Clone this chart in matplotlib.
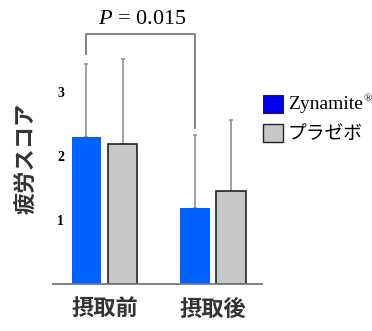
"""
Fatigue score before / after intake: Zynamite vs placebo bar chart.
"""

import matplotlib.pyplot as plt
import numpy as np
from matplotlib.patches import Rectangle

plt.rcParams["mathtext.fontset"] = "custom"
plt.rcParams["mathtext.rm"] = "Liberation Serif"
plt.rcParams["mathtext.it"] = "Liberation Serif:italic"

# --- data -------------------------------------------------------------------
groups = ["摂取前", "摂取後"]
zynamite_mean = [2.29, 1.19]
zynamite_sd = [1.14, 1.14]
placebo_mean = [2.19, 1.46]
placebo_sd = [1.32, 1.11]
y_ticks = [1, 2, 3]
p_label = "$P$ = 0.015"

JP_FONT = "Noto Sans CJK JP"
BLUE = "#0062ff"
GREY = "#c8c8c8"
ERR = "#9a9a9a"

W, H = 372, 331
fig = plt.figure(figsize=(W / 100, H / 100), dpi=100)
ax = fig.add_axes([53 / W, 47 / H, 209 / W, 256 / H])

x = np.arange(len(groups))
bw = 0.27
off = 0.167

ax.bar(x - off, zynamite_mean, bw, color=BLUE, edgecolor="none", zorder=2)
ax.bar(x + off, placebo_mean, bw, color=GREY, edgecolor="#222222",
       linewidth=1.2, zorder=2)

# upward-only error bars
for xs, m, s in [(x - off, zynamite_mean, zynamite_sd),
                 (x + off, placebo_mean, placebo_sd)]:
    ax.errorbar(xs, m, yerr=[np.zeros(len(s)), s], fmt="none", ecolor=ERR,
                elinewidth=1.3, capsize=1.5, capthick=1.3, zorder=1)

ax.set_xlim(-0.475, 1.452)
ax.set_ylim(0, 4)

# significance bracket between the two Zynamite bars
bx0, bx1 = x[0] - off, x[1] - off
ax.plot([bx0, bx0, bx1, bx1], [3.59, 3.91, 3.91, 2.44], color="#7a7a7a",
        lw=1.3, clip_on=False)
ax.text(0.35, 4.13, p_label, ha="center", va="center", fontsize=16,
        family="Liberation Serif", clip_on=False)

for side in ["top", "right", "left"]:
    ax.spines[side].set_visible(False)
ax.spines["bottom"].set_color("#777777")
ax.spines["bottom"].set_linewidth(1.3)

ax.set_xticks(x)
ax.set_xticklabels(groups, fontsize=16, family=JP_FONT, fontweight="bold",
                   color="#333333")
ax.tick_params(axis="x", length=0, pad=10)

ax.set_yticks(y_ticks)
ax.set_yticklabels([str(t) for t in y_ticks], fontsize=10,
                   family="Liberation Serif", fontweight="bold")
ax.tick_params(axis="y", length=0, pad=-8)

fig.text(27 / W, 1 - 158 / H, "疲労スコア", rotation=90, ha="center",
         va="center", fontsize=16, family=JP_FONT, fontweight="bold",
         color="#333333")

# hand-placed legend
fig.patches.append(Rectangle((263 / W, 1 - 113 / H), 20 / W, 18 / H,
                             transform=fig.transFigure, facecolor="#0000ee",
                             edgecolor="#222222", lw=0.8))
fig.patches.append(Rectangle((263 / W, 1 - 142 / H), 20 / W, 18 / H,
                             transform=fig.transFigure, facecolor=GREY,
                             edgecolor="#222222", lw=1.0))
zt = fig.text(288 / W, 1 - 104 / H, "Zynamite", ha="left", va="center",
              fontsize=14, family="Liberation Serif")
ax.annotate("®", xy=(1.0, 1.0), xycoords=zt, xytext=(0.5, 1),
            textcoords="offset points", ha="left", va="top", fontsize=8,
            family="Liberation Serif", annotation_clip=False)
fig.text(288 / W, 1 - 133 / H, "プラゼボ", ha="left", va="center",
         fontsize=13.5, family=JP_FONT)

fig.savefig("out.png", dpi=100)
